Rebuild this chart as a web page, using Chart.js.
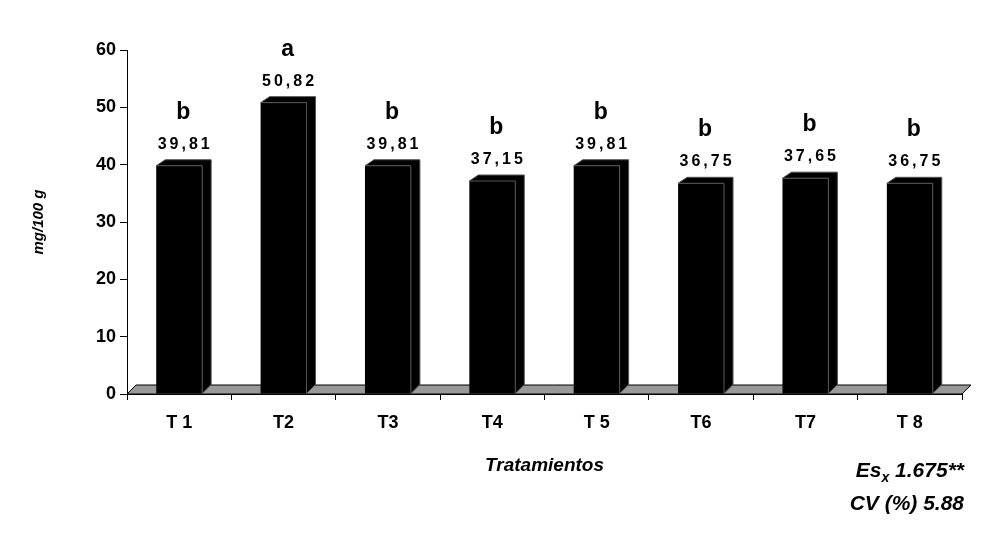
<!DOCTYPE html>
<html>
<head>
<meta charset="utf-8">
<script src="https://cdn.jsdelivr.net/npm/chart.js@4/dist/chart.umd.min.js"></script>
<style>
  body { margin: 0; background: #fff; }
  #wrap { position: relative; width: 984px; height: 541px; }
  .note { position: absolute; right: 20px; font: italic bold 21px "Liberation Sans", Arial, sans-serif; }
</style>
</head>
<body>
<div id="wrap">
  <canvas id="myChart" width="984" height="541"></canvas>
  <div class="note" style="top:458px;">Es<sub style="font-size:14px">x</sub> 1.675**</div>
  <div class="note" style="top:491px;">CV (%) 5.88</div>
</div>
<script>
const categories = ["T 1", "T2", "T3", "T4", "T 5", "T6", "T7", "T 8"];
const values = [39.81, 50.82, 39.81, 37.15, 39.81, 36.75, 37.65, 36.75];
const valueLabels = ["39,81", "50,82", "39,81", "37,15", "39,81", "36,75", "37,65", "36,75"];
const letters = ["b", "a", "b", "b", "b", "b", "b", "b"];
const yTicks = [0, 10, 20, 30, 40, 50, 60];

const font = "Liberation Sans, Arial, sans-serif";
const DX = 9, DY = 6;

// 3D floor, bar depth, and labels
const depthPlugin = {
  id: "depth",
  beforeDatasetsDraw(chart) {
    const ctx = chart.ctx, a = chart.chartArea;
    const y0 = chart.scales.y.getPixelForValue(0);
    ctx.save();
    ctx.fillStyle = "#999";
    ctx.strokeStyle = "#000";
    ctx.lineWidth = 1;
    ctx.beginPath();
    ctx.moveTo(a.left, y0);
    ctx.lineTo(a.left + DX, y0 - DY - 3);
    ctx.lineTo(a.right + DX, y0 - DY - 3);
    ctx.lineTo(a.right, y0);
    ctx.closePath();
    ctx.fill(); ctx.stroke();
    ctx.restore();
  },
  afterDatasetsDraw(chart) {
    const ctx = chart.ctx;
    const meta = chart.getDatasetMeta(0);
    ctx.save();
    meta.data.forEach((bar, i) => {
      const l = bar.x - bar.width / 2, r = bar.x + bar.width / 2;
      const t = bar.y, b = bar.base;
      ctx.fillStyle = "#000";
      ctx.strokeStyle = "#555";
      ctx.beginPath();
      ctx.moveTo(l, t); ctx.lineTo(l + DX, t - DY); ctx.lineTo(r + DX, t - DY);
      ctx.lineTo(r + DX, b - DY - 3); ctx.lineTo(r, b); ctx.lineTo(r, t); ctx.closePath();
      ctx.fill(); ctx.stroke();
      ctx.textAlign = "center";
      ctx.textBaseline = "alphabetic";
      ctx.fillStyle = "#000";
      ctx.letterSpacing = "3px";
      ctx.font = "bold 16px " + font;
      ctx.fillText(valueLabels[i], bar.x + 6, t - 17);
      ctx.letterSpacing = "0px";
      ctx.font = "bold 23px " + font;
      ctx.fillText(letters[i], bar.x + 4, t - 47);
    });
    ctx.restore();
  }
};

new Chart(document.getElementById("myChart").getContext("2d"), {
  type: "bar",
  data: {
    labels: categories,
    datasets: [{
      data: values,
      backgroundColor: "#000",
      barPercentage: 0.44,
      categoryPercentage: 1
    }]
  },
  options: {
    responsive: false,
    animation: false,
    layout: { padding: { left: 26, right: 22, top: 50, bottom: 60 } },
    plugins: { legend: { display: false }, tooltip: { enabled: false } },
    scales: {
      x: {
        grid: { display: true, drawOnChartArea: false, offset: true, tickLength: 6, tickColor: "#000" },
        border: { color: "#000" },
        ticks: { color: "#000", font: { family: font, size: 18, weight: "bold" }, padding: 12 },
        title: { display: true, text: "Tratamientos", color: "#000",
          font: { family: font, size: 19, weight: "bold", style: "italic" }, padding: { top: 16 } },
        afterFit(s) { s.height = 87; }
      },
      y: {
        min: 0, max: 60,
        afterBuildTicks(s) { s.ticks = yTicks.map(v => ({ value: v })); },
        grid: { display: true, drawOnChartArea: false, tickLength: 7, tickColor: "#000" },
        border: { color: "#000" },
        ticks: { color: "#000", font: { family: font, size: 18, weight: "bold" }, padding: 4 },
        title: { display: true, text: "mg/100 g", color: "#000",
          font: { family: font, size: 15, weight: "bold", style: "italic" } },
        afterFit(s) { s.width = 101; }
      }
    }
  },
  plugins: [depthPlugin]
});
</script>
</body>
</html>
